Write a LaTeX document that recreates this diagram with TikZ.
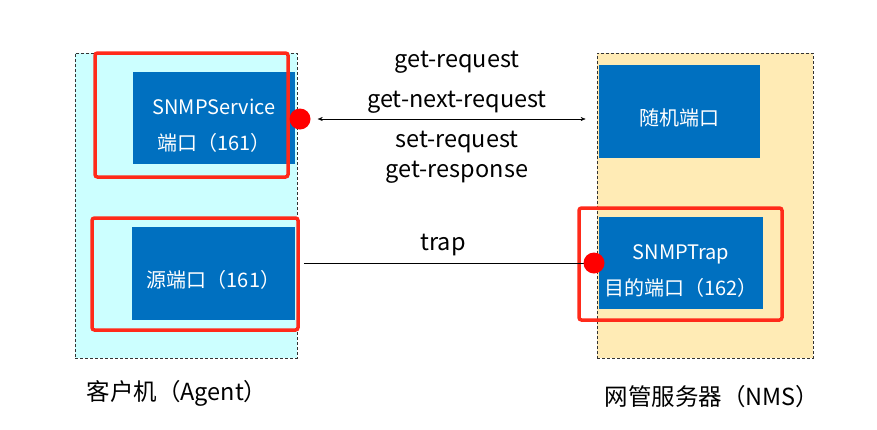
\documentclass[tikz,border=0pt]{standalone}
\usepackage{fontspec}
\setmainfont{Noto Sans CJK SC}
\usepackage{tikz}
\usetikzlibrary{arrows.meta,positioning}
\definecolor{agentfill}{HTML}{CCFFFF}
\definecolor{nmsfill}{HTML}{FFEBB5}
\definecolor{portblue}{HTML}{0070C0}
\definecolor{markred}{HTML}{FF2A1A}
\newcommand{\lift}{\rule{0pt}{30pt}}

\begin{document}
\begin{tikzpicture}[x=1pt,y=-1pt]

\tikzstyle{host}=[draw=black!80, line width=0.8pt, dash pattern=on 3pt off 2pt,
                  inner sep=0pt]
\tikzstyle{port}=[fill=portblue, text=white, align=center, inner sep=0pt,
                  font=\fontsize{20}{36}\selectfont]
\tikzstyle{frame}=[draw=markred, line width=3.5pt, rounded corners=2.5pt, inner sep=0pt]
\tikzstyle{dot}=[circle, fill=red, minimum size=21pt, inner sep=0pt]
\tikzstyle{msg}=[font=\fontsize{23.5}{28}\selectfont, inner sep=1pt]

\useasboundingbox (0,0) rectangle (877,429);

% hosts
\node[host, fill=agentfill, minimum width=222pt, minimum height=305pt] (agent) at (186,205.5) {};
\node[host, fill=nmsfill, minimum width=216pt, minimum height=305pt] (nms) at (705,205.5) {};

% ports
\node[port, minimum width=162pt, minimum height=92pt] (service) at (214,118) {\lift SNMPService\\端口（161）};
\node[port, minimum width=163pt, minimum height=93pt] (srcport) at (213.5,273.5) {\lift 源端口（161）};
\node[port, minimum width=161pt, minimum height=93pt] (randport) at (679.5,111.5) {\lift 随机端口};
\node[port, minimum width=164pt, minimum height=92pt] (trapport) at (681,263) {\lift SNMPTrap\\目的端口（162）};

% red marks
\node[frame, minimum width=193pt, minimum height=124pt] (frame1) at (191.5,115) {};
\node[frame, minimum width=206pt, minimum height=112pt] (frame2) at (195,274) {};
\node[frame, minimum width=203pt, minimum height=112pt] (frame3) at (680.5,264) {};
\node[dot] (dot1) at (300,119) {};
\coordinate (trapend) at (594,263);

% messages
\draw[{Stealth[length=5pt,width=4pt]}-{Stealth[length=5pt,width=4pt]}, shorten <=7pt, shorten >=11pt]
  (dot1.east) -- (dot1 -| nms.west);
\draw[line width=0.8pt, shorten <=4pt] (frame2.east |- trapend) -- (trapend);
\node[dot] (dot2) at (trapend) {};

\foreach \t/\y in {get-request/62,get-next-request/102,set-request/142,get-response/172}{\node[msg] (\t) at (457,\y) {\t};}
\node[msg] (trap) at (443,245) {trap};

% hosts names
\node[msg] (agentname) at (177,393) {客户机（Agent）};
\node[msg] (nmsname) at (712,397) {网管服务器（NMS）};

\end{tikzpicture}
\end{document}
